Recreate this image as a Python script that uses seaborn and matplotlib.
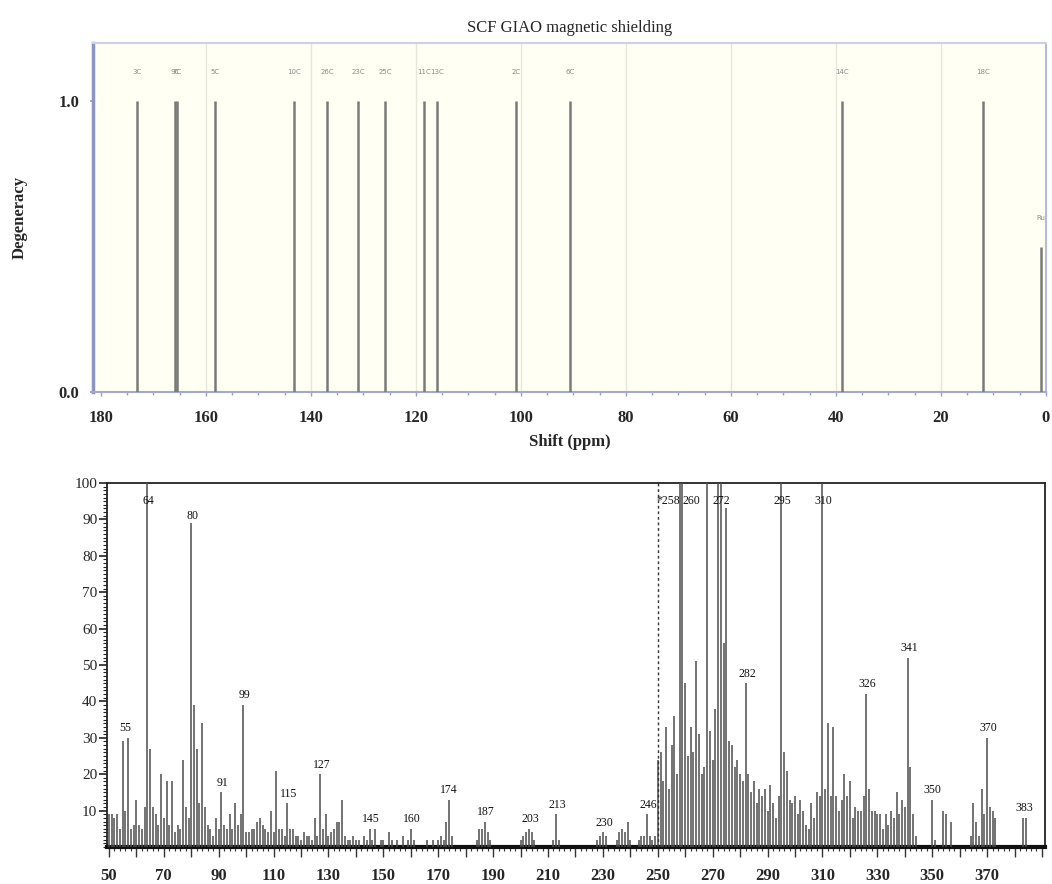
import numpy as np
import matplotlib
matplotlib.use("Agg")
import matplotlib.pyplot as plt
import seaborn as sns

# ---------------- data: top panel (13C NMR, GIAO) ----------------
nmr_labels = ["3C", "9C", "7C", "5C", "10C", "26C", "23C", "25C", "11C", "13C", "2C", "6C", "14C", "18C", "Ru"]
nmr_shift = [173.2, 165.9, 165.5, 158.3, 143.2, 136.9, 131.0, 125.9, 118.5, 116.0, 101.0, 90.7, 38.9, 12.0, 1.0]
nmr_degeneracy = [1.0, 1.0, 1.0, 1.0, 1.0, 1.0, 1.0, 1.0, 1.0, 1.0, 1.0, 1.0, 1.0, 1.0, 0.5]
shift_ticks = [180, 160, 140, 120, 100, 80, 60, 40, 20, 0]

# ---------------- data: bottom panel (mass spectrum) ----------------
ms_mz = [50, 51, 52, 53, 54, 55, 56, 57, 58, 59, 60, 61, 62, 63, 64, 65, 66, 67, 68, 69,
         70, 71, 72, 73, 74, 75, 76, 77, 78, 79, 80, 81, 82, 83, 84, 85, 86, 87, 88, 89,
         90, 91, 92, 93, 94, 95, 96, 97, 98, 99, 100, 101, 102, 103, 104, 105, 106, 107, 108, 109,
         110, 111, 112, 113, 114, 115, 116, 117, 118, 119, 120, 121, 122, 123, 124, 125, 126, 127, 128, 129,
         130, 131, 132, 133, 134, 135, 136, 137, 138, 139, 140, 141, 143, 144, 145, 146, 147, 149, 150, 152,
         153, 155, 157, 159, 160, 161, 166, 168, 170, 171, 172, 173, 174, 175, 184, 185, 186, 187, 188, 189,
         200, 201, 202, 203, 204, 205, 212, 213, 214, 228, 229, 230, 231, 235, 236, 237, 238, 239, 240, 243,
         244, 245, 246, 247, 248, 249, 250, 251, 252, 253, 254, 255, 256, 257, 258, 259, 260, 261, 262, 263,
         264, 265, 266, 267, 268, 269, 270, 271, 272, 273, 274, 275, 276, 277, 278, 279, 280, 281, 282, 283,
         284, 285, 286, 287, 288, 289, 290, 291, 292, 293, 294, 295, 296, 297, 298, 299, 300, 301, 302, 303,
         304, 305, 306, 307, 308, 309, 310, 311, 312, 313, 314, 315, 316, 317, 318, 319, 320, 321, 322, 323,
         324, 325, 326, 327, 328, 329, 330, 331, 332, 333, 334, 335, 336, 337, 338, 339, 340, 341, 342, 343,
         344, 350, 351, 354, 355, 357, 364, 365, 366, 367, 368, 369, 370, 371, 372, 373, 383, 384]
ms_int = [9, 9, 8, 9, 5, 29, 10, 30, 5, 6, 13, 6, 5, 11, 100, 27, 11, 9, 6, 20,
          8, 18, 6, 18, 4, 6, 5, 24, 11, 8, 89, 39, 27, 12, 34, 11, 6, 5, 3, 8,
          5, 15, 6, 5, 9, 5, 12, 6, 9, 39, 4, 4, 5, 5, 7, 8, 6, 5, 4, 10,
          4, 21, 5, 5, 3, 12, 5, 5, 3, 3, 2, 4, 3, 3, 2, 8, 3, 20, 5, 9,
          3, 4, 5, 7, 7, 13, 3, 2, 2, 3, 2, 2, 3, 2, 5, 2, 5, 2, 2, 4,
          2, 2, 3, 2, 5, 2, 2, 2, 2, 3, 2, 7, 13, 3, 2, 5, 5, 7, 4, 2,
          2, 3, 4, 5, 4, 2, 2, 9, 2, 2, 3, 4, 3, 2, 4, 5, 4, 7, 2, 2,
          3, 3, 9, 3, 2, 3, 24, 26, 18, 33, 16, 28, 36, 20, 100, 100, 45, 25, 33, 26,
          51, 31, 20, 22, 100, 32, 24, 38, 100, 100, 56, 93, 29, 28, 22, 24, 20, 18, 45, 20,
          15, 18, 12, 16, 14, 16, 10, 17, 12, 8, 14, 100, 26, 21, 13, 12, 14, 9, 13, 10,
          6, 5, 12, 8, 15, 14, 100, 16, 34, 14, 33, 14, 10, 13, 20, 14, 18, 8, 11, 10,
          10, 14, 42, 16, 10, 10, 9, 9, 5, 9, 6, 10, 8, 15, 9, 13, 11, 52, 22, 9,
          3, 13, 2, 10, 9, 7, 3, 12, 7, 3, 16, 9, 30, 11, 10, 8, 8, 8]
peak_labels = ["55", "64", "80", "91", "99", "115", "127", "145", "160", "174", "187", "203", "213",
               "230", "246", "*258", "260", "272", "282", "295", "310", "326", "341", "350", "370", "383"]
peak_label_mz = [56, 64.5, 80.5, 91.5, 99.5, 115.5, 127.5, 145.5, 160.5, 174, 187.5, 203.5, 213.5,
                 230.5, 246.5, 258.3, 259.0, 273, 282.5, 295.5, 310.5, 326.5, 341.5, 350, 370.5, 383.5]
peak_label_int = [31, 95, 91, 16, 40, 13, 21, 6, 6, 14, 8, 6, 10, 5, 10, 95, 95, 95, 46, 95, 95, 43, 53, 14, 31, 9]
peak_label_ha = ["center"] * 15 + ["right", "left"] + ["center"] * 9
mz_ticks = [50, 70, 90, 110, 130, 150, 170, 190, 210, 230, 250, 270, 290, 310, 330, 350, 370]
int_ticks = [10, 20, 30, 40, 50, 60, 70, 80, 90, 100]

sns.set_theme(style="white")
plt.rcParams['font.family'] = ['Liberation Serif', 'DejaVu Serif']

fig = plt.figure(figsize=(10.52, 8.84), dpi=100)
W, H = 1052, 884

# ---------------- top panel ----------------
ax1 = fig.add_axes([93 / W, 1 - 392 / H, (1046 - 93) / W, (392 - 43) / H])
ax1.set_facecolor('#fffff3')
ax1.set_xlim(181.5, 0)
ax1.set_ylim(0, 1.2)
for g in shift_ticks[1:-1]:
    ax1.axvline(g, color='#e6e6da', lw=1.0, zorder=0)
ax1.vlines(nmr_shift, 0, nmr_degeneracy, color='#7a7a7a', lw=1.8, zorder=3)
for s, d, lab in zip(nmr_shift, nmr_degeneracy, nmr_labels):
    ax1.text(s, d + 0.10, lab, ha='center', va='center', fontsize=5,
             color='#8a8a8a', family='DejaVu Sans')
ax1.set_xticks(shift_ticks)
ax1.set_xticklabels([str(t) for t in shift_ticks], fontsize=12, fontweight='bold')
ax1.set_yticks([0, 1])
ax1.set_yticklabels(['0.0', '1.0'], fontsize=12, fontweight='bold')
ax1.set_xticks(np.arange(0, 181, 5), minor=True)
ax1.tick_params(axis='x', which='major', length=3, color='#9aa0c0', pad=10, width=1)
ax1.tick_params(axis='x', which='minor', length=2, color='#9aa0c0', bottom=True)
ax1.tick_params(axis='y', which='major', length=2, color='#9aa0c0', left=True, pad=8)
ax1.tick_params(axis='x', bottom=True)
ax1.spines['left'].set_color('#8c94c4'); ax1.spines['left'].set_linewidth(2.5)
ax1.spines['bottom'].set_color('#a4aacb'); ax1.spines['bottom'].set_linewidth(1.5)
ax1.spines['top'].set_color('#cdd0e6'); ax1.spines['top'].set_linewidth(1.5)
ax1.spines['right'].set_color('#b4bae0'); ax1.spines['right'].set_linewidth(1.5)
ax1.set_xlabel('Shift (ppm)', fontsize=12, fontweight='bold', labelpad=6)
ax1.set_ylabel('Degeneracy', fontsize=12, fontweight='bold', labelpad=22)
ax1.set_title('SCF GIAO magnetic shielding', fontsize=12, pad=8)

# ---------------- bottom panel ----------------
ax2 = fig.add_axes([107 / W, 1 - 847 / H, (1045 - 107) / W, (847 - 483) / H])
ax2.set_facecolor('white')
ax2.set_xlim(49.3, 391.1)
ax2.set_ylim(0, 100)
ax2.vlines(ms_mz, 0, ms_int, color='#4d4d4d', lw=1.1, zorder=3)
ax2.vlines([250], 0, 100, color='#333333', lw=1.0, linestyles=(0, (2, 2)), zorder=3)
for lab, m, h, ha in zip(peak_labels, peak_label_mz, peak_label_int, peak_label_ha):
    ax2.text(m, h, lab, ha=ha, va='bottom' if h < 90 else 'center',
             fontsize=8.5, color='#111111')
ax2.set_xticks(np.arange(50, 391, 10))
ax2.set_xticklabels([str(t) if t in mz_ticks else '' for t in np.arange(50, 391, 10)],
                    fontsize=12, fontweight='bold')
ax2.set_xticks(np.arange(50, 391, 2), minor=True)
ax2.tick_params(axis='x', which='major', bottom=True, length=7, width=1, color='#333333', pad=8)
ax2.tick_params(axis='x', which='minor', bottom=True, length=3, width=0.8, color='#333333')
ax2.set_yticks(int_ticks)
ax2.set_yticklabels([str(t) for t in int_ticks], fontsize=11)
ax2.set_yticks(np.arange(0, 101, 1), minor=True)
ax2.tick_params(axis='y', which='major', left=True, length=6, width=1.2, color='#222222', pad=1)
ax2.tick_params(axis='y', which='minor', left=True, length=3, width=0.8, color='#222222')
for sp in ['top', 'right', 'left']:
    ax2.spines[sp].set_color('#222222')
    ax2.spines[sp].set_linewidth(1.3)
ax2.spines['bottom'].set_color('#111111')
ax2.spines['bottom'].set_linewidth(3.0)

fig.savefig('out.png', dpi=100, facecolor='white')
